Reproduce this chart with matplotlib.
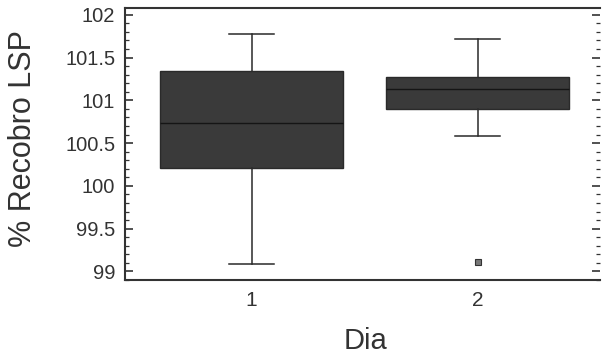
import matplotlib
matplotlib.use("Agg")
import matplotlib.pyplot as plt
from matplotlib.ticker import MultipleLocator, FuncFormatter

plt.rcParams['font.family'] = ['Liberation Sans', 'DejaVu Sans']

days = [1, 2]
day_labels = ["1", "2"]
q1 = [100.21, 100.90]
medians = [100.73, 101.13]
q3 = [101.34, 101.27]
whislo = [99.09, 100.58]
whishi = [101.77, 101.72]
outliers = [[], [99.11]]

stats = []
for i in range(len(days)):
    stats.append(dict(med=medians[i], q1=q1[i], q3=q3[i],
                      whislo=whislo[i], whishi=whishi[i],
                      fliers=outliers[i], label=day_labels[i]))

fig = plt.figure(figsize=(6.04, 3.58), dpi=100)
ax = fig.add_axes([0.207, 0.218, 0.786, 0.760])

ax.bxp(stats, positions=days, widths=0.81, capwidths=0.2, patch_artist=True,
       boxprops=dict(facecolor='#3a3a3a', edgecolor='#2a2a2a', linewidth=1),
       medianprops=dict(color='#151515', linewidth=1),
       whiskerprops=dict(color='#2a2a2a', linewidth=1.1),
       capprops=dict(color='#2a2a2a', linewidth=1.1),
       flierprops=dict(marker='s', markersize=4, markerfacecolor='#777777',
                       markeredgecolor='#333333', markeredgewidth=0.8))

ax.set_xlim(0.44, 2.54)
ax.set_ylim(98.90, 102.08)
ax.yaxis.set_major_locator(MultipleLocator(0.5))
ax.yaxis.set_minor_locator(MultipleLocator(0.1))
ax.yaxis.set_major_formatter(FuncFormatter(lambda v, p: f"{v:g}"))

ax.tick_params(axis='y', which='major', direction='in', length=6, width=1.2,
               labelsize=14.5, labelcolor='#333333', color='#333333', right=True, pad=7)
ax.tick_params(axis='y', which='minor', direction='in', length=3, width=0.9,
               color='#333333', right=True)
ax.tick_params(axis='x', length=0, labelsize=15, labelcolor='#333333', pad=8)
ax.set_xticks(days)
ax.set_xticklabels(day_labels)

for s in ['left', 'bottom', 'top']:
    ax.spines[s].set_color('#333333')
    ax.spines[s].set_linewidth(1.5)
ax.spines['right'].set_visible(False)

fig.text(23 / 604, 1 - 138.5 / 358, '% Recobro LSP', rotation=90, fontsize=22,
         color='#333333', ha='center', va='center')
fig.text(366 / 604, 1 - 349 / 358, 'Dia', fontsize=21, color='#333333',
         ha='center', va='baseline')

fig.savefig('out.png', dpi=100)
